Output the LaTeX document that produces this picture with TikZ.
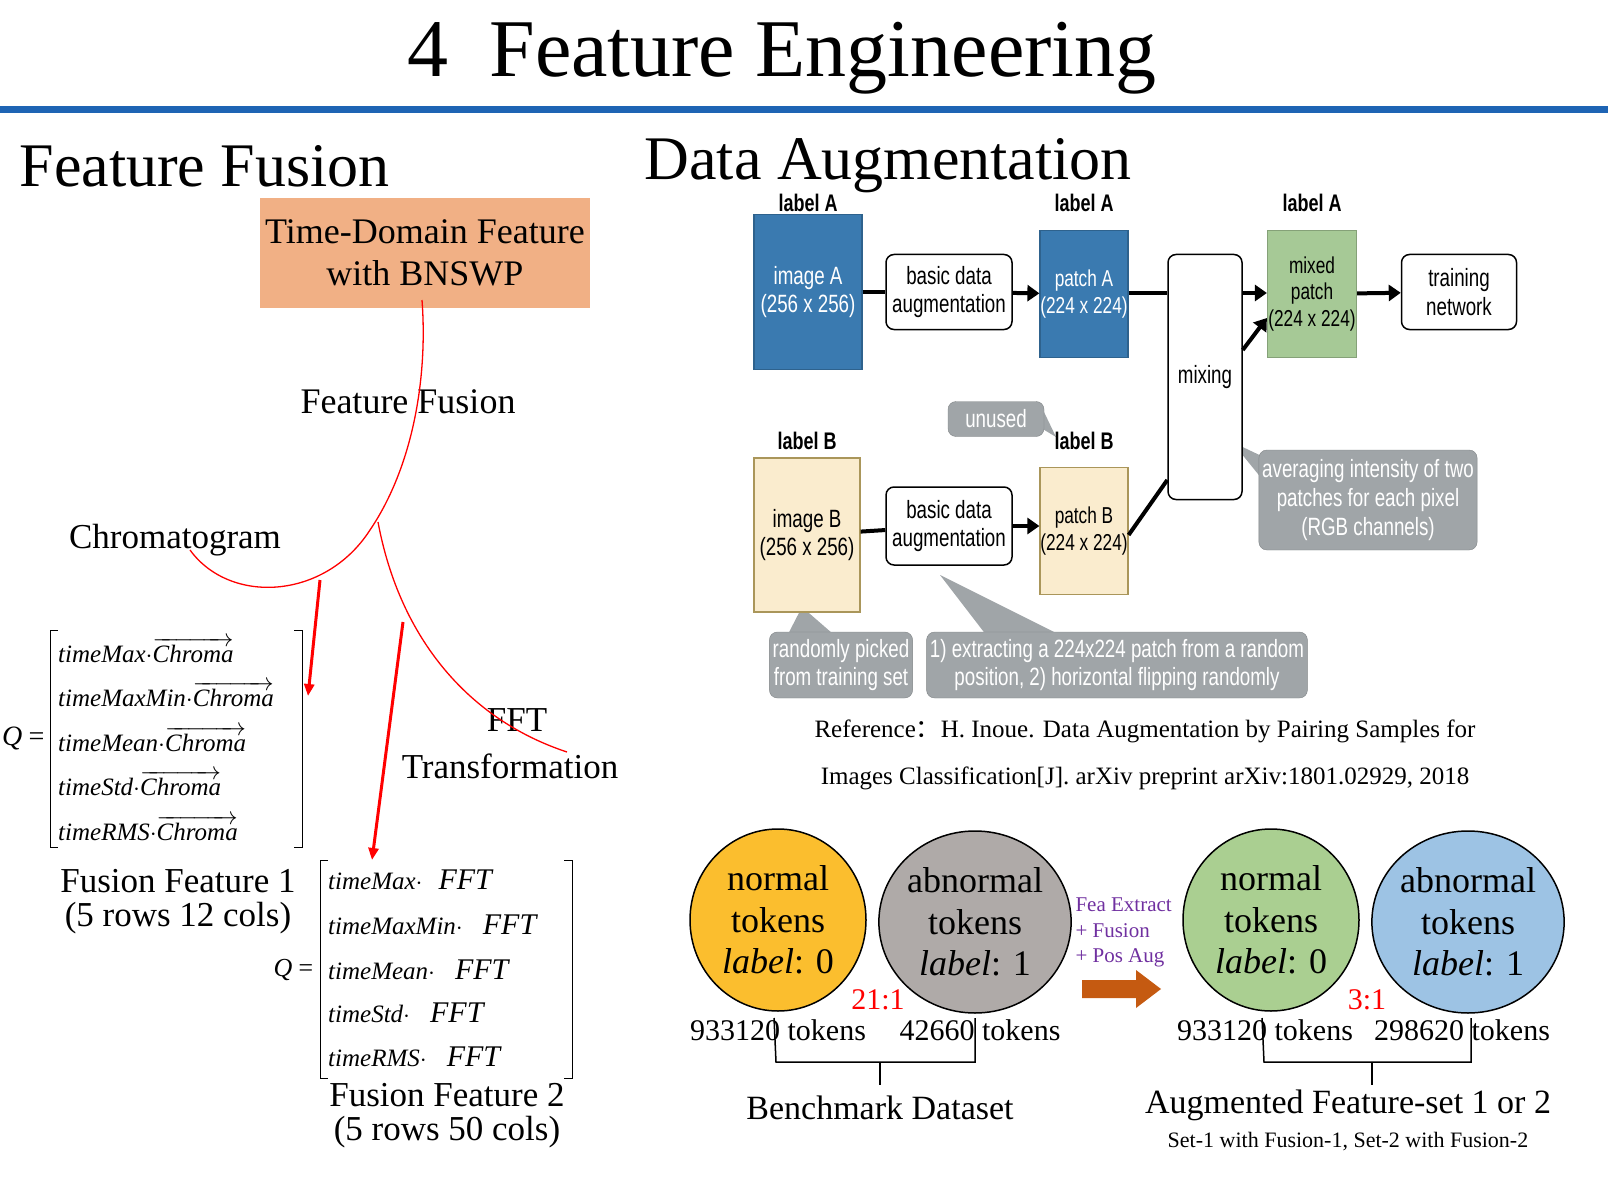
\documentclass[tikz,border=0pt]{standalone}
\usepackage{fontspec}
\setmainfont{Liberation Serif}
\newfontfamily\sans{Liberation Sans}[FakeStretch=0.75]
\newfontfamily\cjk{Noto Sans CJK SC}
\usetikzlibrary{positioning,shapes.geometric,arrows.meta}
\definecolor{ruleblue}{RGB}{30,100,180}
\definecolor{salmon}{RGB}{241,176,133}
\definecolor{imgblue}{RGB}{58,122,176}
\definecolor{mixgreen}{RGB}{166,201,150}
\definecolor{beige}{RGB}{250,236,206}
\definecolor{olive}{RGB}{170,150,90}
\definecolor{note}{RGB}{160,165,168}
\definecolor{tokorange}{RGB}{251,190,46}
\definecolor{tokgray}{RGB}{175,170,168}
\definecolor{tokgreen}{RGB}{170,207,145}
\definecolor{tokblue}{RGB}{157,195,228}
\definecolor{purp}{RGB}{112,48,160}
\definecolor{rust}{RGB}{197,90,17}
\newcommand{\fs}[1]{\fontsize{#1}{1.15\dimexpr#1pt\relax}\selectfont}
\newcommand{\vchroma}{$\overrightarrow{\hbox{\itshape Chroma}}$}
\tikzset{
  box/.style={draw=black,line width=1.5pt,rounded corners=8pt,fill=white,align=center,font=\sans\fs{25}},
  img/.style={draw=#1!80!black,line width=1.2pt,fill=#1,align=center,font=\sans\fs{25},inner sep=0pt},
  tag/.style={font=\sans\bfseries\fs{24}},
  gray note/.style={fill=note,draw=note!80!black,rounded corners=8pt,text=white,align=center,font=\sans\fs{25}},
  flow/.style={line width=4pt,-{Triangle[length=12pt,width=16pt]}},
  bar/.style={line width=4pt},
  tok/.style={ellipse,draw,line width=1.5pt,minimum width=176pt,minimum height=182pt,align=center,font=\fs{36},inner sep=0pt},
  row/.style={anchor=west,font=\itshape\fs{25},inner sep=0pt},
}
\begin{document}
\begin{tikzpicture}[x=1pt,y=-1pt]
\useasboundingbox (0,0) rectangle (1608,1198);

% heading
\node[font=\fs{82}] (title) at (782,58) {4\ \ Feature Engineering};
\fill[ruleblue] (0,106) rectangle (1608,113);
\node[font=\fs{62},anchor=west] (hff) at (16,166) {Feature Fusion};
\node[font=\fs{62},anchor=west] (hda) at (641,166) {Data Augmentation};

% feature fusion
\node[fill=salmon,minimum width=330pt,minimum height=110pt,align=center,font=\fs{36}] (tdf) at (425,253) {Time-Domain Feature\\ with BNSWP};
\node[font=\fs{36}] (ffl) at (408,402) {Feature Fusion};
\node[font=\fs{35}] (chrom) at (175,540) {Chromatogram};
\node[font=\fs{35}] (fft) at (517,720) {FFT};
\node[font=\fs{35}] (trans) at (510,766) {Transformation};
\coordinate (top) at (422,300);
\coordinate (cstart) at (190,550);
\coordinate (fstart) at (378,522);
\coordinate (fend) at (567,752);
\draw[red,line width=1.3pt] (cstart) .. controls (230,605) and (325,600) .. (370,530) .. controls (412,468) and (428,380) .. (top);
\draw[red,line width=1.3pt] (fstart) .. controls (400,640) and (470,720) .. (fend);

% matrix 1
\node[font=\itshape\fs{28}] (q1) at (24,738) {Q\,=};
\draw[line width=1pt] (58,630) -| (50,847) -- (58,847);
\draw[line width=1pt] (294,630) -| (302,847) -- (294,847);
\node[row] (r11) at (58,650) {timeMax$\cdot$\vchroma};
\node[row] (r12) at (58,694) {timeMaxMin$\cdot$\vchroma};
\node[row] (r13) at (58,739) {timeMean$\cdot$\vchroma};
\node[row] (r14) at (58,783) {timeStd$\cdot$\vchroma};
\node[row] (r15) at (58,828) {timeRMS$\cdot$\vchroma};
\node[font=\fs{35},align=center] (ff1) at (178,902) {Fusion Feature 1\\[-6pt](5 rows 12 cols)};

% matrix 2
\node[font=\itshape\fs{26}] (q2) at (294,970) {Q\,=};
\draw[line width=1pt] (328,860) -| (320,1078) -- (328,1078);
\draw[line width=1pt] (564,860) -| (572,1078) -- (564,1078);
\node[row] (r21) at (328,880) {timeMax$\cdot$\hspace{16pt}\fs{30}FFT};
\node[row] (r22) at (328,925) {timeMaxMin$\cdot$\hspace{20pt}\fs{30}FFT};
\node[row] (r23) at (328,970) {timeMean$\cdot$\hspace{20pt}\fs{30}FFT};
\node[row] (r24) at (328,1013) {timeStd$\cdot$\hspace{20pt}\fs{30}FFT};
\node[row] (r25) at (328,1057) {timeRMS$\cdot$\hspace{20pt}\fs{30}FFT};
\node[font=\fs{35},align=center] (ff2) at (447,1116) {Fusion Feature 2\\[-6pt](5 rows 50 cols)};

\coordinate (a1) at (320,580);
\coordinate (a1end) at (308,696);
\coordinate (a2) at (403,622);
\coordinate (a2end) at (372,860);
\draw[red,line width=3pt,-{Triangle[length=12pt,width=10pt]}] (a1) -- (a1end);
\draw[red,line width=3pt,-{Triangle[length=12pt,width=10pt]}] (a2) -- (a2end);

% data augmentation notes (pointers first)
\fill[note] (1036,425) -- (1056,437) -- (1044,412) -- cycle;
\fill[note] (1270,460) -- (1232,442) -- (1275,495) -- cycle;
\fill[note] (785,640) -- (802,607) -- (840,640) -- cycle;
\fill[note] (990,640) -- (940,575) -- (1070,640) -- cycle;
\node[gray note,minimum width=96pt,minimum height=35pt] (unused) at (996,419) {unused};
\node[gray note,minimum width=211pt,minimum height=100pt] (avg) at (1368,500) {averaging intensity of two\\patches for each pixel\\(RGB channels)};
\node[gray note,minimum width=133pt,minimum height=66pt] (rand) at (841,665) {randomly picked\\from training set};
\node[gray note,minimum width=352pt,minimum height=66pt] (ext) at (1117,665) {1) extracting a 224x224 patch from a random\\position, 2) horizontal flipping randomly};

% data augmentation flow
\node[img=imgblue,text=white,minimum width=108pt,minimum height=155pt] (imgA) at (808,292) {image A\\(256 x 256)};
\node[box,minimum width=126pt,minimum height=75pt] (aug1) at (949,292) {basic data\\augmentation};
\node[img=imgblue,text=white,minimum width=88pt,minimum height=127pt,font=\sans\fs{23}] (patA) at (1084,294) {patch A\\(224 x 224)};
\node[box,minimum width=74pt,minimum height=245pt] (mix) at (1205,377) {mixing};
\node[img=mixgreen,minimum width=89pt,minimum height=127pt,font=\sans\fs{23}] (mixed) at (1312,294) {mixed\\patch\\(224 x 224)};
\node[box,minimum width=115pt,minimum height=75pt] (train) at (1459,292) {training\\network};
\node[img=beige,draw=olive,minimum width=106pt,minimum height=154pt] (imgB) at (807,535) {image B\\(256 x 256)};
\node[box,minimum width=126pt,minimum height=78pt] (aug2) at (949,526) {basic data\\augmentation};
\node[img=beige,draw=olive,minimum width=88pt,minimum height=127pt,font=\sans\fs{23}] (patB) at (1084,531) {patch B\\(224 x 224)};
\node[tag] (labA1) at (808,203) {label A};
\node[tag] (labA2) at (1084,203) {label A};
\node[tag] (labA3) at (1312,203) {label A};
\node[tag] (labB1) at (807,441) {label B};
\node[tag] (labB2) at (1084,441) {label B};

\draw[bar] (imgA) -- (aug1);
\draw[flow] (aug1) -- (patA);
\draw[bar] (patA.east |- 0,293) -- (mix.west |- 0,293);
\draw[flow] (mix.east |- 0,293) -- (mixed.west |- 0,293);
\draw[flow] (mix.east |- 0,350) -- (mixed.west |- 0,318);
\draw[flow] (mixed) -- (train);
\draw[bar] (imgB) -- (aug2);
\draw[flow] (aug2) -- (patB.west |- aug2);
\draw[bar] (patB.east |- 0,535) -- (mix.west |- 0,480);

% reference
\node[font=\fs{25}] (ref1) at (1145,731) {Reference{\cjk ：}H. Inoue. Data Augmentation by Pairing Samples for};
\node[font=\fs{25}] (ref2) at (1145,778) {Images Classification[J]. arXiv preprint arXiv:1801.02929, 2018};

% token sets
\node[tok,fill=tokorange] (n0) at (778,920) {normal\\tokens\\\textit{label}: 0};
\node[tok,fill=tokgray] (a0) at (975,922) {abnormal\\tokens\\\textit{label}: 1};
\node[tok,fill=tokgreen] (n1) at (1271,920) {normal\\tokens\\\textit{label}: 0};
\node[tok,fill=tokblue] (a1b) at (1468,922) {abnormal\\tokens\\\textit{label}: 1};
\node[text=red,font=\fs{30}] (r21b) at (878,1000) {21:1};
\node[text=red,font=\fs{30}] (r31) at (1367,1000) {3:1};
\node[font=\fs{30}] (t1) at (778,1030) {933120 tokens};
\node[font=\fs{30}] (t2) at (980,1030) {42660 tokens};
\node[font=\fs{30}] (t3) at (1265,1030) {933120 tokens};
\node[font=\fs{30}] (t4) at (1462,1030) {298620 tokens};
\node[text=purp,font=\fs{21},anchor=west] (p1) at (1072,905) {Fea Extract};
\node[text=purp,font=\fs{21},anchor=west] (p2) at (1072,931) {+ Fusion};
\node[text=purp,font=\fs{21},anchor=west] (p3) at (1072,958) {+ Pos Aug};
\fill[rust] (1082,980) -- (1136,980) -- (1136,970) -- (1161,989) -- (1136,1008) -- (1136,998) -- (1082,998) -- cycle;

\draw[line width=1.5pt] (774,1018) -- (776,1062) -- (975,1062) -- (975,1018);
\draw[line width=1.5pt] (880,1062) -- (880,1085);
\draw[line width=1.5pt] (1262,1018) -- (1264,1062) -- (1471,1062) -- (1471,1018);
\draw[line width=1.5pt] (1372,1062) -- (1372,1085);
\node[font=\fs{34}] (bench) at (880,1108) {Benchmark Dataset};
\node[font=\fs{34}] (augset) at (1348,1105) {Augmented Feature-set 1 or 2};
\node[font=\fs{22}] (sets) at (1348,1142) {Set-1 with Fusion-1, Set-2 with Fusion-2};
\end{tikzpicture}
\end{document}
